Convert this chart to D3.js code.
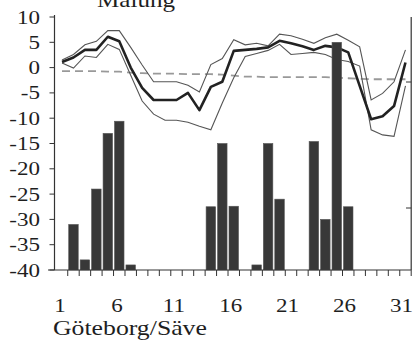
<!DOCTYPE html>
<html><head><meta charset="utf-8">
<script src="https://cdn.jsdelivr.net/npm/d3@7"></script>
<style>body{margin:0;background:#fff}svg{display:block}text{font-family:"Liberation Serif","Times New Roman",serif;fill:#1e1e1e}</style>
</head><body><svg id="c" width="414" height="342"></svg>
<script>
const days = d3.range(1, 32);
const meanTemp = [1.1,2.0,3.5,3.5,6.1,5.2,0.0,-4.0,-6.4,-6.4,-6.4,-5.0,-8.4,-3.8,-2.8,3.3,3.5,3.7,4.0,5.3,4.8,4.2,3.5,4.3,4.0,3.0,-3.6,-10.2,-9.6,-7.6,1.0];
const maxTemp = [1.5,2.6,4.5,5.2,7.3,7.3,4.0,0.5,-2.8,-2.8,-2.8,-3.5,-4.8,0.6,1.8,5.5,4.5,4.8,4.3,6.6,6.3,5.6,4.8,5.9,6.6,5.4,4.1,-6.4,-5.1,-2.8,3.5];
const minTemp = [0.9,-0.1,2.3,2.0,4.6,3.6,-1.5,-6.6,-9.2,-10.4,-10.4,-10.8,-11.6,-12.3,-7.0,-2.0,2.2,2.8,3.4,4.6,2.6,2.8,3.0,2.6,1.6,1.2,0.3,-12.3,-13.3,-13.6,-3.6];
const normalTemp = [-0.7,-0.7,-0.7,-0.7,-0.8,-0.8,-1.0,-1.1,-1.2,-1.2,-1.2,-1.3,-1.3,-1.3,-1.4,-1.6,-1.8,-1.8,-1.9,-1.9,-1.9,-1.9,-1.9,-1.9,-2.0,-2.1,-2.2,-2.3,-2.3,-2.3,-2.3];
const barDays = [2,3,4,5,6,7,14,15,16,18,19,20,23,24,25,26];
const barValues = [-31,-38,-24,-13,-10.6,-39,-27.5,-15,-27.4,-39,-15,-26,-14.6,-30,5,-27.5];
const yTicks = [10,5,0,-5,-10,-15,-20,-25,-30,-35,-40];
const xLabels = [1,6,11,16,21,26,31];
const title = "Malung";
const xTitle = "Göteborg/Säve";

const svg = d3.select("#c");
const x = d3.scaleBand().domain(days).range([56.3, 411.2]).padding(0);
const y = d3.scaleLinear().domain([-40, 10]).range([270, 17]);
const cx = d => x(d) + x.bandwidth() / 2;
const axisX = 54.5;
const SX = 1.18;

// lines
const line = arr => d3.line().x((v, i) => cx(days[i])).y(v => y(v))(arr);
svg.append("path").attr("d", line(normalTemp)).attr("fill","none").attr("stroke","#999").attr("stroke-width",1.8).attr("stroke-dasharray","8,5");
svg.append("path").attr("d", line(maxTemp)).attr("fill","none").attr("stroke","#555").attr("stroke-width",1.1);
svg.append("path").attr("d", line(minTemp)).attr("fill","none").attr("stroke","#555").attr("stroke-width",1.1);
svg.append("path").attr("d", line(meanTemp)).attr("fill","none").attr("stroke","#222").attr("stroke-width",2.6).attr("stroke-linejoin","round");

// bars
const bw = x.bandwidth() * 0.83;
svg.selectAll("rect.bar").data(barDays).join("rect").attr("class","bar")
  .attr("x", d => cx(d) - bw / 2).attr("width", bw)
  .attr("y", (d, i) => y(barValues[i])).attr("height", (d, i) => y(-40) - y(barValues[i]))
  .attr("fill", "#383838").attr("stroke","#555").attr("stroke-width",0.6);

// y axis
svg.append("line").attr("x1",axisX).attr("x2",axisX).attr("y1",y(10)-2).attr("y2",y(-40)).attr("stroke","#333").attr("stroke-width",1.2);
svg.selectAll("line.yt").data(yTicks).join("line").attr("class","yt")
  .attr("x1",axisX-5).attr("x2",axisX).attr("y1",d=>y(d)).attr("y2",d=>y(d)).attr("stroke","#333");
svg.selectAll("text.yl").data(yTicks).join("text").attr("class","yl")
  .attr("transform",d=>`translate(40,${y(d)+6.5}) scale(${SX},1)`).attr("text-anchor","end").attr("font-size",19.5).text(d=>String(d));

// x axis
svg.append("line").attr("x1",48).attr("x2",411.2).attr("y1",y(-40)).attr("y2",y(-40)).attr("stroke","#333").attr("stroke-width",1.2);
svg.selectAll("line.xt").data(days).join("line").attr("class","xt")
  .attr("x1",d=>x(d)+x.bandwidth()).attr("x2",d=>x(d)+x.bandwidth()).attr("y1",y(-40)).attr("y2",y(-40)+6).attr("stroke","#333");
svg.selectAll("text.xl").data(xLabels).join("text").attr("class","xl")
  .attr("transform",d=>`translate(${cx(d)-2-(d-1)*0.07},312) scale(${SX},1)`).attr("text-anchor","middle").attr("font-size",19.5).text(d=>String(d));

// right frame line (neighbouring panel axis)
svg.append("line").attr("x1",411.2).attr("x2",411.2).attr("y1",y(10)).attr("y2",y(-40)).attr("stroke","#333").attr("stroke-width",1.2);
svg.selectAll("line.rt").data([82,208]).join("line").attr("class","rt")
  .attr("x1",406).attr("x2",411.2).attr("y1",d=>d).attr("y2",d=>d).attr("stroke","#333");

svg.append("text").attr("transform",`translate(136,7) scale(1.14,1)`).attr("text-anchor","middle").attr("font-size",22).text(title);
svg.append("text").attr("transform",`translate(53,335) scale(1.17,1)`).attr("font-size",22).text(xTitle);
</script></body></html>
